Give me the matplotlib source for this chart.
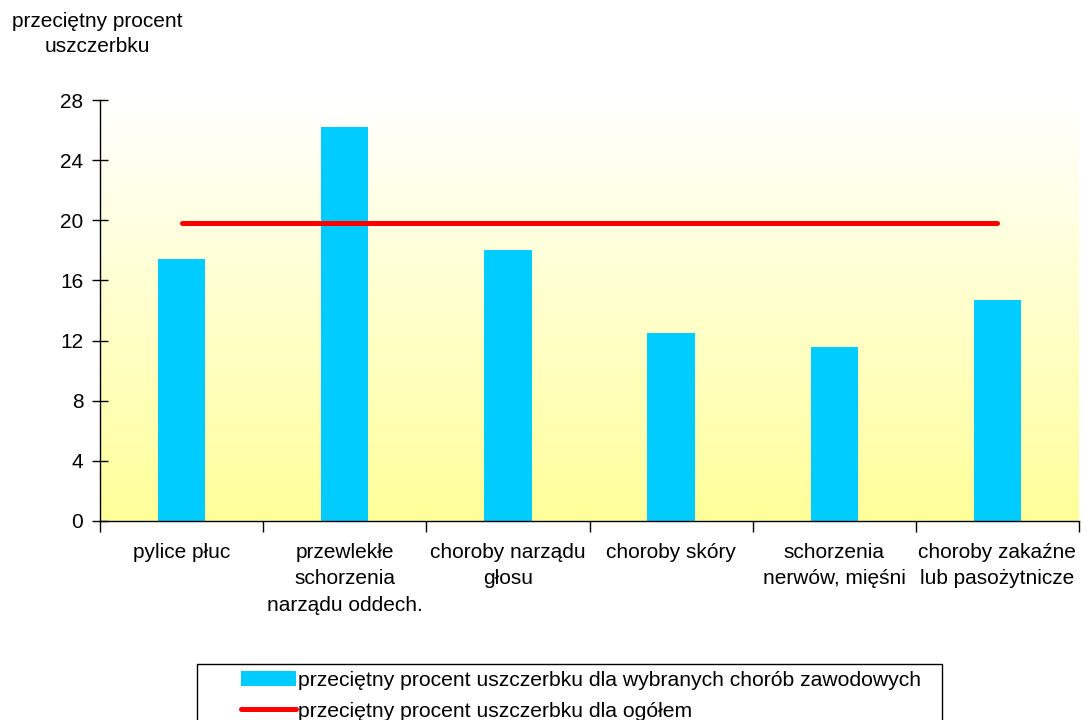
import numpy as np
import matplotlib
matplotlib.use("Agg")
import matplotlib.pyplot as plt
from matplotlib.colors import LinearSegmentedColormap
from matplotlib.patches import Patch, Rectangle
from matplotlib.lines import Line2D

categories = ["pylice płuc", "przewlekłe\nschorzenia\nnarządu oddech.",
              "choroby narządu\ngłosu", "choroby skóry",
              "schorzenia\nnerwów, mięśni", "choroby zakaźne\nlub pasożytnicze"]
values = [17.4, 26.2, 18.0, 12.5, 11.6, 14.7]
overall = 19.8
yticks = [0, 4, 8, 12, 16, 20, 24, 28]
bar_label = "przeciętny procent uszczerbku dla wybranych chorób zawodowych"
line_label = "przeciętny procent uszczerbku dla ogółem"
ylabel = "przeciętny procent\nuszczerbku"

plt.rcParams["font.family"] = ["Liberation Sans", "DejaVu Sans"]
FS = 15

fig = plt.figure(figsize=(10.86, 7.2), dpi=100)
ax = fig.add_axes([100 / 1086, 1 - 521 / 720, 979 / 1086, 421 / 720])

x = np.arange(len(categories))
ax.set_xlim(-0.5, len(categories) - 0.5)
ax.set_ylim(0, 28)

# background gradient: white at top, pale yellow at bottom
cmap = LinearSegmentedColormap.from_list("bg", ["#FFFF99", "#FFFFFF"])
grad = np.linspace(0, 1, 256).reshape(-1, 1)
ax.imshow(grad, extent=[-0.5, len(categories) - 0.5, 0, 28], origin="lower",
          aspect="auto", cmap=cmap, zorder=0)

ax.bar(x, values, width=0.29, color="#00CCFF", zorder=2)
ax.plot([x[0], x[-1]], [overall, overall], color="#FF0000", lw=3.6,
        solid_capstyle="round", zorder=3)

for s in ["top", "right"]:
    ax.spines[s].set_visible(False)
for s in ["left", "bottom"]:
    ax.spines[s].set_color("#000000")
    ax.spines[s].set_linewidth(1.0)

ax.set_yticks(yticks)
ax.set_yticklabels([str(v) for v in yticks], fontsize=FS)
ax.tick_params(axis="y", direction="inout", length=12, pad=6, width=1)

ax.set_xticks(x)
ax.set_xticklabels(categories, fontsize=FS, linespacing=1.48)
ax.tick_params(axis="x", which="major", length=0, pad=16)
ax.set_xticks(np.arange(len(categories) + 1) - 0.5, minor=True)
ax.tick_params(axis="x", which="minor", direction="out", length=8, width=1)

fig.text(97 / 1086, 1 - 34 / 720, ylabel, ha="center", va="center",
         fontsize=FS, linespacing=1.45)

# legend with a frame that runs off the bottom of the figure
handles = [Patch(facecolor="#00CCFF", edgecolor="none"),
           Line2D([], [], color="#FF0000", lw=3.6, solid_capstyle="round")]
fig.legend(handles, [bar_label, line_label], loc="upper left",
           bbox_to_anchor=(241 / 1086, 1 - 671 / 720), frameon=False,
           fontsize=15.2, handlelength=2.6, handleheight=0.68,
           handletextpad=0.1, labelspacing=0.55, borderpad=0,
           borderaxespad=0)
fig.patches.append(Rectangle((197 / 1086, -0.05), (942 - 197) / 1086,
                             0.05 + 56 / 720, transform=fig.transFigure,
                             fill=False, edgecolor="#000000", lw=1.0))

fig.savefig("out.png", dpi=100)
